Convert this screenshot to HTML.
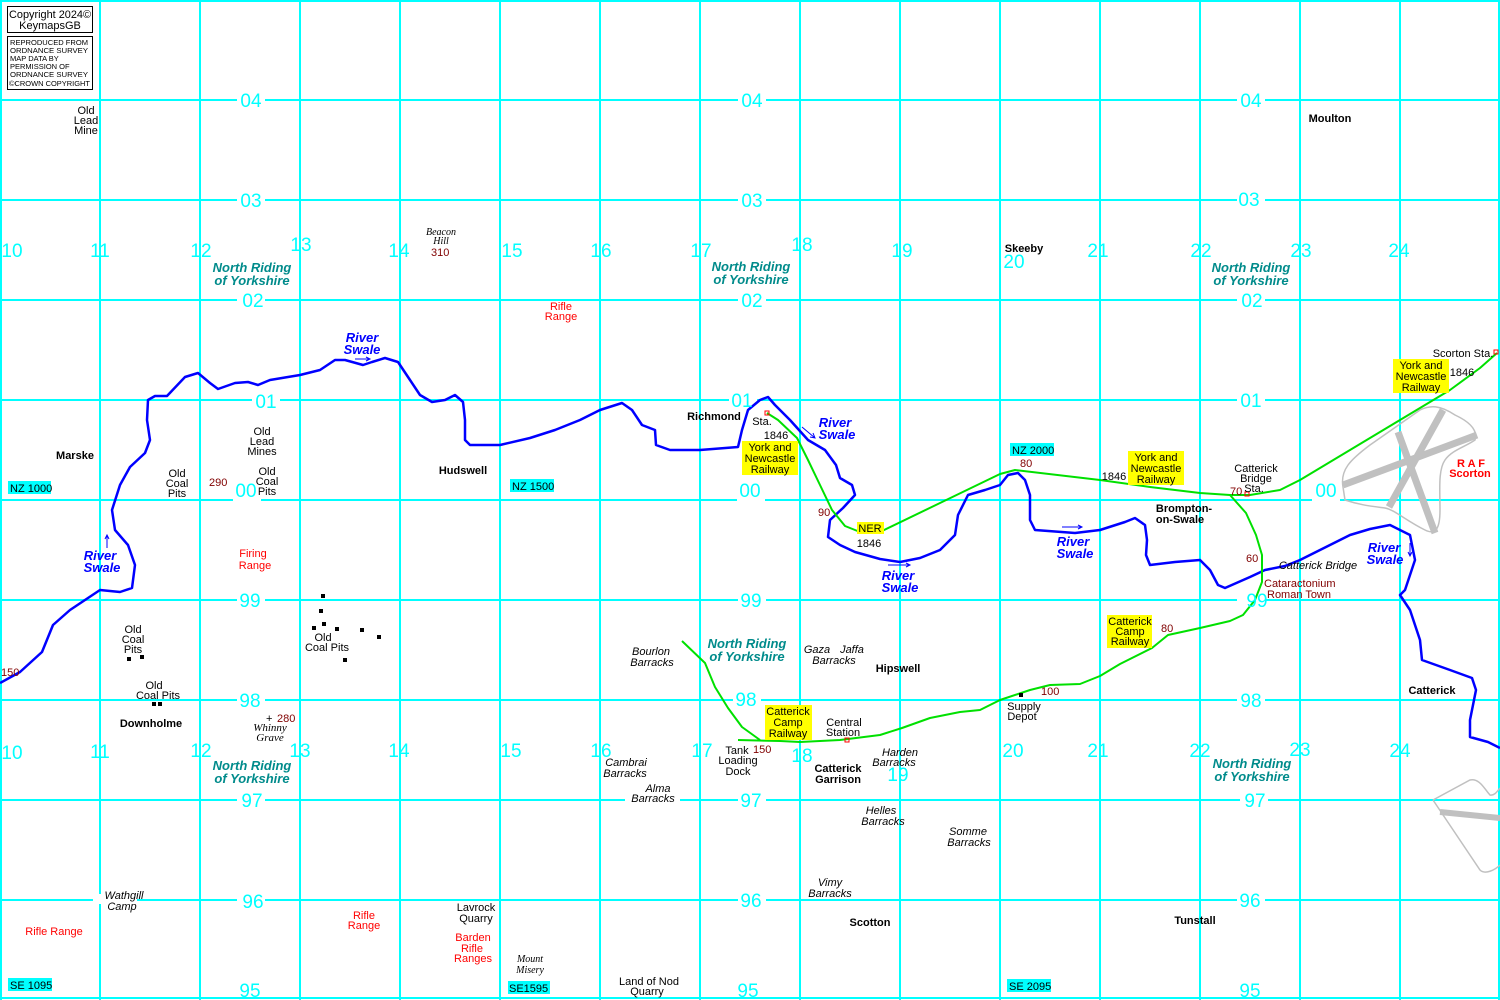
<!DOCTYPE html>
<html><head><meta charset="utf-8"><style>
html,body{margin:0;padding:0;background:#fff;}
svg{display:block;}
text{font-family:"Liberation Sans",Arial,sans-serif;font-size:11px;}
.n{fill:#00ffff;font-size:19px;}
.b{font-weight:bold;}
.i{font-style:italic;}
.nr{fill:#008b8b;font-weight:bold;font-style:italic;font-size:13px;}
.rv{fill:#0000ff;font-weight:bold;font-style:italic;font-size:13px;}
.r{fill:#ff0000;}
.h{fill:#800000;}
.sf{font-family:"Liberation Serif",serif;font-style:italic;}
.c{font-size:7.5px;}
</style></head><body>
<svg width="1500" height="1000" viewBox="0 0 1500 1000" xmlns="http://www.w3.org/2000/svg">
<rect width="1500" height="1000" fill="#fff"/>
<g stroke="#00ffff" stroke-width="2">
<line x1="1" y1="0" x2="1" y2="1000"/><line x1="100" y1="0" x2="100" y2="1000"/><line x1="200" y1="0" x2="200" y2="1000"/><line x1="300" y1="0" x2="300" y2="1000"/><line x1="400" y1="0" x2="400" y2="1000"/><line x1="500" y1="0" x2="500" y2="1000"/><line x1="600" y1="0" x2="600" y2="1000"/><line x1="700" y1="0" x2="700" y2="1000"/><line x1="800" y1="0" x2="800" y2="1000"/><line x1="900" y1="0" x2="900" y2="1000"/><line x1="1000" y1="0" x2="1000" y2="1000"/><line x1="1100" y1="0" x2="1100" y2="1000"/><line x1="1200" y1="0" x2="1200" y2="1000"/><line x1="1300" y1="0" x2="1300" y2="1000"/><line x1="1400" y1="0" x2="1400" y2="1000"/><line x1="1499" y1="0" x2="1499" y2="1000"/>
<line x1="0" y1="1" x2="1500" y2="1"/><line x1="0" y1="100" x2="1500" y2="100"/><line x1="0" y1="200" x2="1500" y2="200"/><line x1="0" y1="300" x2="1500" y2="300"/><line x1="0" y1="400" x2="1500" y2="400"/><line x1="0" y1="500" x2="1500" y2="500"/><line x1="0" y1="600" x2="1500" y2="600"/><line x1="0" y1="700" x2="1500" y2="700"/><line x1="0" y1="800" x2="1500" y2="800"/><line x1="0" y1="900" x2="1500" y2="900"/><line x1="0" y1="998" x2="1500" y2="998"/>
</g>
<g fill="#fff">
<rect x="237" y="90" width="28" height="20"/><rect x="738" y="90" width="28" height="20"/><rect x="1237" y="90" width="28" height="20"/>
<rect x="237" y="190" width="28" height="20"/><rect x="738" y="190" width="28" height="20"/><rect x="1237" y="190" width="28" height="20"/>
<rect x="237" y="290" width="28" height="20"/><rect x="738" y="290" width="28" height="20"/><rect x="1237" y="290" width="28" height="20"/>
<rect x="252" y="390" width="28" height="20"/><rect x="729" y="390" width="28" height="20"/><rect x="1237" y="390" width="28" height="20"/>
<rect x="233" y="490" width="28" height="20"/><rect x="737" y="490" width="28" height="20"/><rect x="1312" y="490" width="28" height="20"/>
<rect x="237" y="590" width="28" height="20"/><rect x="738" y="590" width="28" height="20"/><rect x="1237" y="590" width="28" height="20"/>
<rect x="237" y="690" width="28" height="20"/><rect x="733" y="690" width="28" height="20"/><rect x="1237" y="690" width="28" height="20"/>
<rect x="237" y="790" width="28" height="20"/><rect x="738" y="790" width="28" height="20"/><rect x="1240" y="790" width="28" height="20"/>
<rect x="237" y="890" width="28" height="20"/><rect x="738" y="890" width="28" height="20"/><rect x="1237" y="890" width="28" height="20"/>
<rect x="625" y="794" width="55" height="10"/><rect x="93" y="894" width="44" height="10"/>
</g>
<g fill="none" stroke="#c0c0c0">
<path d="M1343,487 C1340,470 1350,460 1370,445 L1420,410 C1430,405 1440,405 1455,415 C1470,422 1478,430 1475,440 C1465,447 1452,450 1445,460 C1438,470 1440,490 1440,510 C1440,530 1435,535 1425,530 C1405,520 1395,510 1385,508 C1370,506 1360,505 1345,500 Z" stroke-width="1.5"/>
<path d="M1343,485 L1477,435 M1443,410 L1389,507 M1398,432 L1435,533" stroke-width="7"/>
<path d="M1433,800 L1470,780 C1480,778 1485,790 1490,795 C1495,796 1498,790 1500,788 M1433,800 L1480,870 C1485,875 1495,870 1500,865" stroke-width="1.5"/>
<path d="M1440,812 L1500,818" stroke-width="6"/>
</g>
<path fill="none" stroke="#0000ff" stroke-width="2.5" stroke-linejoin="round" d="M0,683 L20,672 L42,652 L53,625 L70,610 L100,590 L120,592 L132,588 L135,565 L128,545 L115,530 L112,510 L120,485 L130,467 L145,453 L150,440 L147,420 L148,400 L155,396 L167,396 L185,377 L198,373 L210,383 L218,389 L235,383 L248,382 L258,385 L270,380 L300,375 L320,370 L335,360 L345,360 L363,365 L372,362 L385,358 L398,362 L410,380 L420,395 L432,402 L445,400 L455,395 L463,402 L465,420 L465,440 L470,445 L500,445 L530,438 L555,430 L580,420 L600,410 L622,403 L632,410 L642,425 L655,430 L656,445 L670,450 L700,450 L738,447 L742,430 L748,410 L760,400 L768,397 L775,405 L790,420 L808,440 L825,450 L836,465 L840,478 L852,485 L855,495 L843,508 L830,520 L828,537 L840,545 L855,552 L880,559 L900,562 L920,558 L940,550 L955,535 L958,515 L968,495 L985,490 L1000,485 L1008,475 L1018,473 L1025,480 L1030,495 L1030,520 L1035,530 L1075,533 L1100,530 L1125,522 L1135,518 L1145,525 L1147,540 L1146,555 L1150,565 L1175,562 L1200,560 L1210,570 L1218,585 L1225,588 L1250,577 L1265,570 L1285,566 L1300,560 L1330,545 L1350,535 L1370,529 L1390,525 L1410,535 L1415,560 L1405,590 L1400,595 L1410,610 L1420,640 L1422,660 L1450,670 L1472,678 L1476,690 L1470,720 L1470,737 L1488,742 L1500,748"/>
<g fill="none" stroke="#00e000" stroke-width="2" stroke-linejoin="round">
<path d="M767,413 L778,420 L797,438 L808,460 L820,485 L832,510 L845,526 L860,532 L880,532 L940,503 L1000,474 L1015,470 L1100,480 L1150,487 L1200,493 L1230,495 L1250,495 L1280,490 L1300,480 L1350,450 L1400,420 L1450,390 L1480,368 L1497,353"/>
<path d="M1230,495 L1246,513 L1256,535 L1262,555 L1262,582 L1255,600 L1243,615 L1230,621 L1200,628 L1168,635 L1152,648 L1120,664 L1100,676 L1080,684 L1050,685 L1030,690 L1000,700 L980,710 L960,712 L930,718 L902,728 L880,735 L840,740 L800,742 L780,741 L738,740"/>
<path d="M682,641 L705,663 L715,687 L728,708 L742,727 L760,740"/>
</g>
<g fill="none" stroke="#ff0000" stroke-width="1">
<rect x="765" y="411" width="4" height="4"/><rect x="1245" y="492" width="4" height="4"/><rect x="845" y="738" width="4" height="4"/><rect x="1494" y="350" width="4" height="4"/>
</g>
<g stroke="#0000ff" stroke-width="1" fill="none">
<path d="M355,359 L370,359 M366,357 L370,359 L366,361"/>
<path d="M107,548 L107,535 M105,539 L107,535 L109,539"/>
<path d="M802,427 L815,438 M810,437 L815,438 L813,433"/>
<path d="M888,565 L910,565 M906,563 L910,565 L906,567"/>
<path d="M1062,527 L1082,527 M1078,525 L1082,527 L1078,529"/>
<path d="M1410,543 L1410,556 M1408,552 L1410,556 L1412,552"/>
</g>
<g fill="#000">
<rect x="321" y="594" width="4" height="4"/><rect x="319" y="609" width="4" height="4"/><rect x="322" y="622" width="4" height="4"/><rect x="312" y="626" width="4" height="4"/><rect x="335" y="627" width="4" height="4"/><rect x="360" y="628" width="4" height="4"/><rect x="377" y="635" width="4" height="4"/><rect x="343" y="658" width="4" height="4"/>
<rect x="127" y="657" width="4" height="4"/><rect x="140" y="655" width="4" height="4"/><rect x="152" y="702" width="4" height="4"/><rect x="158" y="702" width="4" height="4"/><rect x="1019" y="693" width="4" height="4"/>
</g>
<rect x="7.5" y="6.5" width="85" height="26" fill="#fff" stroke="#000"/>
<text x="9" y="18" textLength="82" lengthAdjust="spacingAndGlyphs">Copyright 2024©</text>
<text x="50" y="29" text-anchor="middle">KeymapsGB</text>
<rect x="7.5" y="36.5" width="85" height="53" fill="#fff" stroke="#000"/>
<text class="c" x="10" y="45" textLength="78" lengthAdjust="spacingAndGlyphs">REPRODUCED FROM</text>
<text class="c" x="10" y="53" textLength="78" lengthAdjust="spacingAndGlyphs">ORDNANCE SURVEY</text>
<text class="c" x="10" y="61">MAP DATA BY</text>
<text class="c" x="10" y="69">PERMISSION OF</text>
<text class="c" x="10" y="77" textLength="78" lengthAdjust="spacingAndGlyphs">ORDNANCE SURVEY</text>
<text class="c" x="9" y="86" textLength="81" lengthAdjust="spacingAndGlyphs">©CROWN COPYRIGHT</text>
<g class="n" text-anchor="middle">
<text class="n" x="251" y="107">04</text><text class="n" x="752" y="107">04</text><text class="n" x="1251" y="107">04</text>
<text class="n" x="251" y="207">03</text><text class="n" x="752" y="207">03</text><text class="n" x="1249" y="206">03</text>
<text class="n" x="253" y="307">02</text><text class="n" x="752" y="307">02</text><text class="n" x="1252" y="307">02</text>
<text class="n" x="266" y="408">01</text><text class="n" x="742" y="407">01</text><text class="n" x="1251" y="407">01</text>
<text class="n" x="246" y="497">00</text><text class="n" x="750" y="497">00</text><text class="n" x="1326" y="497">00</text>
<text class="n" x="250" y="607">99</text><text class="n" x="751" y="607">99</text><text class="n" x="1257" y="607">99</text>
<text class="n" x="250" y="707">98</text><text class="n" x="746" y="706">98</text><text class="n" x="1251" y="707">98</text>
<text class="n" x="252" y="807">97</text><text class="n" x="751" y="807">97</text><text class="n" x="1255" y="807">97</text>
<text class="n" x="253" y="908">96</text><text class="n" x="751" y="907">96</text><text class="n" x="1250" y="907">96</text>
<text class="n" x="250" y="997">95</text><text class="n" x="748" y="997">95</text><text class="n" x="1250" y="997">95</text>
<text class="n" x="12" y="257">10</text><text class="n" x="100" y="257">11</text><text class="n" x="201" y="257">12</text><text class="n" x="301" y="251">13</text><text class="n" x="399" y="257">14</text><text class="n" x="512" y="257">15</text><text class="n" x="601" y="257">16</text><text class="n" x="701" y="257">17</text><text class="n" x="802" y="251">18</text><text class="n" x="902" y="257">19</text><text class="n" x="1014" y="268">20</text><text class="n" x="1098" y="257">21</text><text class="n" x="1201" y="257">22</text><text class="n" x="1301" y="257">23</text><text class="n" x="1399" y="257">24</text>
<text class="n" x="12" y="759">10</text><text class="n" x="100" y="758">11</text><text class="n" x="201" y="757">12</text><text class="n" x="300" y="757">13</text><text class="n" x="399" y="757">14</text><text class="n" x="511" y="757">15</text><text class="n" x="601" y="757">16</text><text class="n" x="702" y="757">17</text><text class="n" x="802" y="762">18</text><text class="n" x="898" y="781">19</text><text class="n" x="1013" y="757">20</text><text class="n" x="1098" y="757">21</text><text class="n" x="1200" y="757">22</text><text class="n" x="1300" y="756">23</text><text class="n" x="1400" y="757">24</text>
</g>
<g class="nr" text-anchor="middle">
<text class="nr" x="252" y="272">North Riding</text><text class="nr" x="252" y="285">of  Yorkshire</text>
<text class="nr" x="751" y="271">North Riding</text><text class="nr" x="751" y="284">of  Yorkshire</text>
<text class="nr" x="1251" y="272">North Riding</text><text class="nr" x="1251" y="285">of  Yorkshire</text>
<text class="nr" x="747" y="648">North Riding</text><text class="nr" x="747" y="661">of  Yorkshire</text>
<text class="nr" x="252" y="770">North Riding</text><text class="nr" x="252" y="783">of  Yorkshire</text>
<text class="nr" x="1252" y="768">North Riding</text><text class="nr" x="1252" y="781">of  Yorkshire</text>
</g>
<g class="rv" text-anchor="middle">
<text class="rv" x="362" y="342">River</text><text class="rv" x="362" y="354">Swale</text>
<text class="rv" x="100" y="560">River</text><text class="rv" x="102" y="572">Swale</text>
<text class="rv" x="835" y="427">River</text><text class="rv" x="837" y="439">Swale</text>
<text class="rv" x="898" y="580">River</text><text class="rv" x="900" y="592">Swale</text>
<text class="rv" x="1073" y="546">River</text><text class="rv" x="1075" y="558">Swale</text>
<text class="rv" x="1384" y="552">River</text><text class="rv" x="1385" y="564">Swale</text>
</g>
<g fill="#ffff00">
<rect x="742" y="441" width="56" height="34"/><rect x="1128" y="451" width="56" height="34"/><rect x="1393" y="359" width="56" height="34"/><rect x="857" y="522" width="27" height="12"/><rect x="765" y="705" width="47" height="35"/><rect x="1107" y="615" width="45" height="33"/>
</g>
<g text-anchor="middle">
<text x="770" y="451">York and</text><text x="770" y="462">Newcastle</text><text x="770" y="473">Railway</text>
<text x="1156" y="461">York and</text><text x="1156" y="472">Newcastle</text><text x="1156" y="483">Railway</text>
<text x="1421" y="369">York and</text><text x="1421" y="380">Newcastle</text><text x="1421" y="391">Railway</text>
<text x="870" y="532">NER</text>
<text x="788" y="715">Catterick</text><text x="788" y="726">Camp</text><text x="788" y="737">Railway</text>
<text x="1130" y="625">Catterick</text><text x="1130" y="635">Camp</text><text x="1130" y="645">Railway</text>
</g>
<g fill="#00ffff"><rect x="8" y="481" width="43" height="13"/><rect x="510" y="479" width="44" height="13"/><rect x="1010" y="443" width="44" height="13"/><rect x="8" y="978" width="44" height="13"/><rect x="508" y="981" width="42" height="13"/><rect x="1007" y="979" width="44" height="13"/></g>
<text x="10" y="492">NZ 1000</text><text x="512" y="490">NZ 1500</text><text x="1012" y="454">NZ 2000</text><text x="10" y="989">SE 1095</text><text x="509" y="992">SE1595</text><text x="1009" y="990">SE 2095</text>
<g text-anchor="middle">
<text x="86" y="114">Old</text><text x="86" y="124">Lead</text><text x="86" y="134">Mine</text>
<text x="262" y="435">Old</text><text x="262" y="445">Lead</text><text x="262" y="455">Mines</text>
<text x="177" y="477">Old</text><text x="177" y="487">Coal</text><text x="177" y="497">Pits</text>
<text x="267" y="475">Old</text><text x="267" y="485">Coal</text><text x="267" y="495">Pits</text>
<text x="133" y="633">Old</text><text x="133" y="643">Coal</text><text x="133" y="653">Pits</text>
<text x="323" y="641">Old</text><text x="327" y="651">Coal Pits</text>
<text x="154" y="689">Old</text><text x="158" y="699">Coal Pits</text>
<text x="762" y="425">Sta.</text><text x="776" y="439">1846</text>
<text x="869" y="547">1846</text>
<text x="1256" y="472">Catterick</text><text x="1256" y="482">Bridge</text><text x="1254" y="492">Sta.</text>
<text x="1114" y="480">1846</text><text x="1462" y="376">1846</text>
<text x="1463" y="357">Scorton Sta.</text>
<text x="844" y="726">Central</text><text x="843" y="736">Station</text>
<text x="737" y="754">Tank</text><text x="738" y="764">Loading</text><text x="738" y="775">Dock</text>
<text x="1024" y="710">Supply</text><text x="1022" y="720">Depot</text>
<text x="476" y="911">Lavrock</text><text x="476" y="922">Quarry</text>
<text x="649" y="985">Land of Nod</text><text x="647" y="995">Quarry</text>
</g>
<g class="b" text-anchor="middle">
<text class="b" x="75" y="459">Marske</text><text class="b" x="463" y="474">Hudswell</text><text class="b" x="714" y="420">Richmond</text>
<text class="b" x="1024" y="252">Skeeby</text><text class="b" x="1330" y="122">Moulton</text>
<text class="b" x="1184" y="512">Brompton-</text><text class="b" x="1180" y="523">on-Swale</text>
<text class="b" x="898" y="672">Hipswell</text><text class="b" x="151" y="727">Downholme</text>
<text class="b" x="838" y="772">Catterick</text><text class="b" x="838" y="783">Garrison</text>
<text class="b" x="1432" y="694">Catterick</text><text class="b" x="870" y="926">Scotton</text><text class="b" x="1195" y="924">Tunstall</text>
</g>
<text class="b r" x="1471" y="467" text-anchor="middle">R A F</text><text class="b r" x="1470" y="477" text-anchor="middle">Scorton</text>
<g class="i" text-anchor="middle">
<text class="i" x="651" y="655">Bourlon</text><text class="i" x="652" y="666">Barracks</text>
<text class="i" x="817" y="653">Gaza</text><text class="i" x="852" y="653">Jaffa</text><text class="i" x="834" y="664">Barracks</text>
<text class="i" x="626" y="766">Cambrai</text><text class="i" x="625" y="777">Barracks</text>
<text class="i" x="658" y="792">Alma</text><text class="i" x="653" y="802">Barracks</text>
<text class="i" x="900" y="756">Harden</text><text class="i" x="894" y="766">Barracks</text>
<text class="i" x="881" y="814">Helles</text><text class="i" x="883" y="825">Barracks</text>
<text class="i" x="968" y="835">Somme</text><text class="i" x="969" y="846">Barracks</text>
<text class="i" x="830" y="886">Vimy</text><text class="i" x="830" y="897">Barracks</text>
<text class="i" x="124" y="899">Wathgill</text><text class="i" x="122" y="910">Camp</text>
<text class="i" x="1318" y="569">Catterick Bridge</text>
</g>
<g class="sf" text-anchor="middle">
<text class="sf" x="441" y="235" style="font-size:10px">Beacon</text><text class="sf" x="441" y="244" style="font-size:10px">Hill</text>
<text class="sf" x="270" y="731">Whinny</text><text class="sf" x="270" y="741">Grave</text>
<text class="sf" x="530" y="962" style="font-size:10px">Mount</text><text class="sf" x="530" y="973" style="font-size:10px">Misery</text>
</g>
<text x="266" y="722">+</text>
<g class="r" text-anchor="middle">
<text class="r" x="561" y="310">Rifle</text><text class="r" x="561" y="320">Range</text>
<text class="r" x="253" y="557">Firing</text><text class="r" x="255" y="569">Range</text>
<text class="r" x="54" y="935">Rifle Range</text>
<text class="r" x="364" y="919">Rifle</text><text class="r" x="364" y="929">Range</text>
<text class="r" x="473" y="941">Barden</text><text class="r" x="472" y="952">Rifle</text><text class="r" x="473" y="962">Ranges</text>
</g>
<g class="h">
<text class="h" x="1" y="676">150</text><text class="h" x="209" y="486">290</text><text class="h" x="431" y="256">310</text><text class="h" x="277" y="722">280</text>
<text class="h" x="818" y="516">90</text><text class="h" x="1020" y="467">80</text><text class="h" x="1230" y="495">70</text><text class="h" x="1246" y="562">60</text><text class="h" x="1161" y="632">80</text><text class="h" x="1041" y="695">100</text><text class="h" x="753" y="753">150</text>
<text class="h" x="1264" y="587">Cataractonium</text><text class="h" x="1267" y="598">Roman Town</text>
</g>
</svg>
</body></html>
